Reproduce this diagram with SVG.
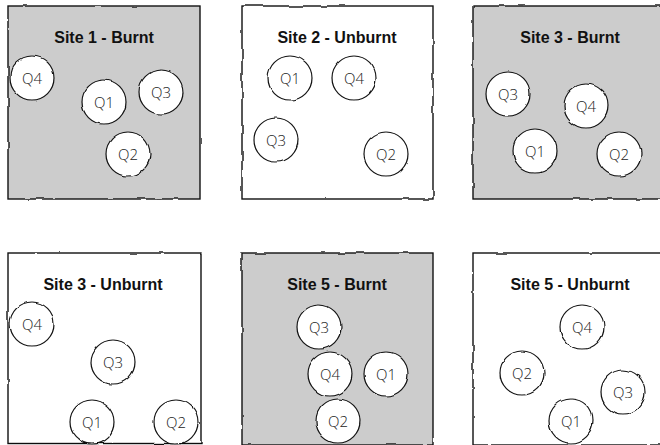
<svg xmlns="http://www.w3.org/2000/svg" width="660" height="445" viewBox="0 0 660 445">
  <defs>
    <!-- hand-drawn wobble for outlines -->
    <filter id="rough" x="-5%" y="-5%" width="110%" height="110%">
      <feTurbulence type="fractalNoise" baseFrequency="0.06" numOctaves="2" seed="4" result="n"/>
      <feDisplacementMap in="SourceGraphic" in2="n" scale="2.6" xChannelSelector="R" yChannelSelector="G"/>
    </filter>
  </defs>
  <style>
    .site { stroke: #111; stroke-width: 1.4; filter: url(#rough); }
    .burnt { fill: #cccccc; }
    .unburnt { fill: #ffffff; }
    .quad circle { fill: #ffffff; stroke: #111; stroke-width: 1.2; filter: url(#rough); }
    .title { font-family: "Liberation Sans", Arial, sans-serif; font-size: 16px; font-weight: bold; fill: #111; text-anchor: middle; }
    .qlabel { font-family: "Open Sans", "Liberation Sans", sans-serif; font-size: 15px; font-weight: 300; fill: #222; text-anchor: middle; dominant-baseline: central; }
  </style>
  <rect width="660" height="445" fill="#ffffff"/>

  <!-- Site 1 - Burnt -->
  <g id="site1-burnt">
    <rect class="site burnt" x="8" y="6" width="192" height="193"/>
    <text class="title" x="104" y="43">Site 1 - Burnt</text>
    <g id="s1b-q4" class="quad"><circle cx="32" cy="78" r="22"/><text class="qlabel" x="32" y="78">Q4</text></g>
    <g id="s1b-q1" class="quad"><circle cx="104" cy="102" r="22"/><text class="qlabel" x="104" y="102">Q1</text></g>
    <g id="s1b-q3" class="quad"><circle cx="161" cy="92" r="22"/><text class="qlabel" x="161" y="92">Q3</text></g>
    <g id="s1b-q2" class="quad"><circle cx="128" cy="154" r="22"/><text class="qlabel" x="128" y="154">Q2</text></g>
  </g>

  <!-- Site 2 - Unburnt -->
  <g id="site2-unburnt">
    <rect class="site unburnt" x="242" y="6" width="191" height="193"/>
    <text class="title" x="337" y="43">Site 2 - Unburnt</text>
    <g id="s2u-q1" class="quad"><circle cx="290" cy="78" r="22"/><text class="qlabel" x="290" y="78">Q1</text></g>
    <g id="s2u-q4" class="quad"><circle cx="354" cy="78" r="22"/><text class="qlabel" x="354" y="78">Q4</text></g>
    <g id="s2u-q3" class="quad"><circle cx="276" cy="140" r="22"/><text class="qlabel" x="276" y="140">Q3</text></g>
    <g id="s2u-q2" class="quad"><circle cx="386" cy="154" r="22"/><text class="qlabel" x="386" y="154">Q2</text></g>
  </g>

  <!-- Site 3 - Burnt -->
  <g id="site3-burnt">
    <rect class="site burnt" x="473" y="6" width="194" height="193"/>
    <text class="title" x="570" y="43">Site 3 - Burnt</text>
    <g id="s3b-q3" class="quad"><circle cx="508" cy="94" r="22"/><text class="qlabel" x="508" y="94">Q3</text></g>
    <g id="s3b-q4" class="quad"><circle cx="586" cy="106" r="22"/><text class="qlabel" x="586" y="106">Q4</text></g>
    <g id="s3b-q1" class="quad"><circle cx="535" cy="151" r="22"/><text class="qlabel" x="535" y="151">Q1</text></g>
    <g id="s3b-q2" class="quad"><circle cx="619" cy="154" r="22"/><text class="qlabel" x="619" y="154">Q2</text></g>
  </g>

  <!-- Site 3 - Unburnt -->
  <g id="site3-unburnt">
    <rect class="site unburnt" x="8" y="253" width="193" height="190.5"/>
    <text class="title" x="103" y="290">Site 3 - Unburnt</text>
    <g id="s3u-q4" class="quad"><circle cx="32" cy="324" r="22"/><text class="qlabel" x="32" y="324">Q4</text></g>
    <g id="s3u-q3" class="quad"><circle cx="113" cy="362" r="22"/><text class="qlabel" x="113" y="362">Q3</text></g>
    <g id="s3u-q1" class="quad"><circle cx="92" cy="422" r="22"/><text class="qlabel" x="92" y="422">Q1</text></g>
    <g id="s3u-q2" class="quad"><circle cx="176" cy="422" r="22"/><text class="qlabel" x="176" y="422">Q2</text></g>
  </g>

  <!-- Site 5 - Burnt -->
  <g id="site5-burnt">
    <rect class="site burnt" x="242" y="253" width="191" height="192"/>
    <text class="title" x="337" y="290">Site 5 - Burnt</text>
    <g id="s5b-q3" class="quad"><circle cx="319" cy="327" r="22"/><text class="qlabel" x="319" y="327">Q3</text></g>
    <g id="s5b-q4" class="quad"><circle cx="330" cy="374" r="22"/><text class="qlabel" x="330" y="374">Q4</text></g>
    <g id="s5b-q1" class="quad"><circle cx="386" cy="374" r="22"/><text class="qlabel" x="386" y="374">Q1</text></g>
    <g id="s5b-q2" class="quad"><circle cx="338" cy="421" r="22"/><text class="qlabel" x="338" y="421">Q2</text></g>
  </g>

  <!-- Site 5 - Unburnt -->
  <g id="site5-unburnt">
    <rect class="site unburnt" x="473" y="253" width="194" height="192"/>
    <text class="title" x="570" y="290">Site 5 - Unburnt</text>
    <g id="s5u-q4" class="quad"><circle cx="582" cy="327" r="22"/><text class="qlabel" x="582" y="327">Q4</text></g>
    <g id="s5u-q2" class="quad"><circle cx="522" cy="373" r="22"/><text class="qlabel" x="522" y="373">Q2</text></g>
    <g id="s5u-q3" class="quad"><circle cx="623" cy="392" r="22"/><text class="qlabel" x="623" y="392">Q3</text></g>
    <g id="s5u-q1" class="quad"><circle cx="571" cy="421" r="22"/><text class="qlabel" x="571" y="421">Q1</text></g>
  </g>
</svg>
